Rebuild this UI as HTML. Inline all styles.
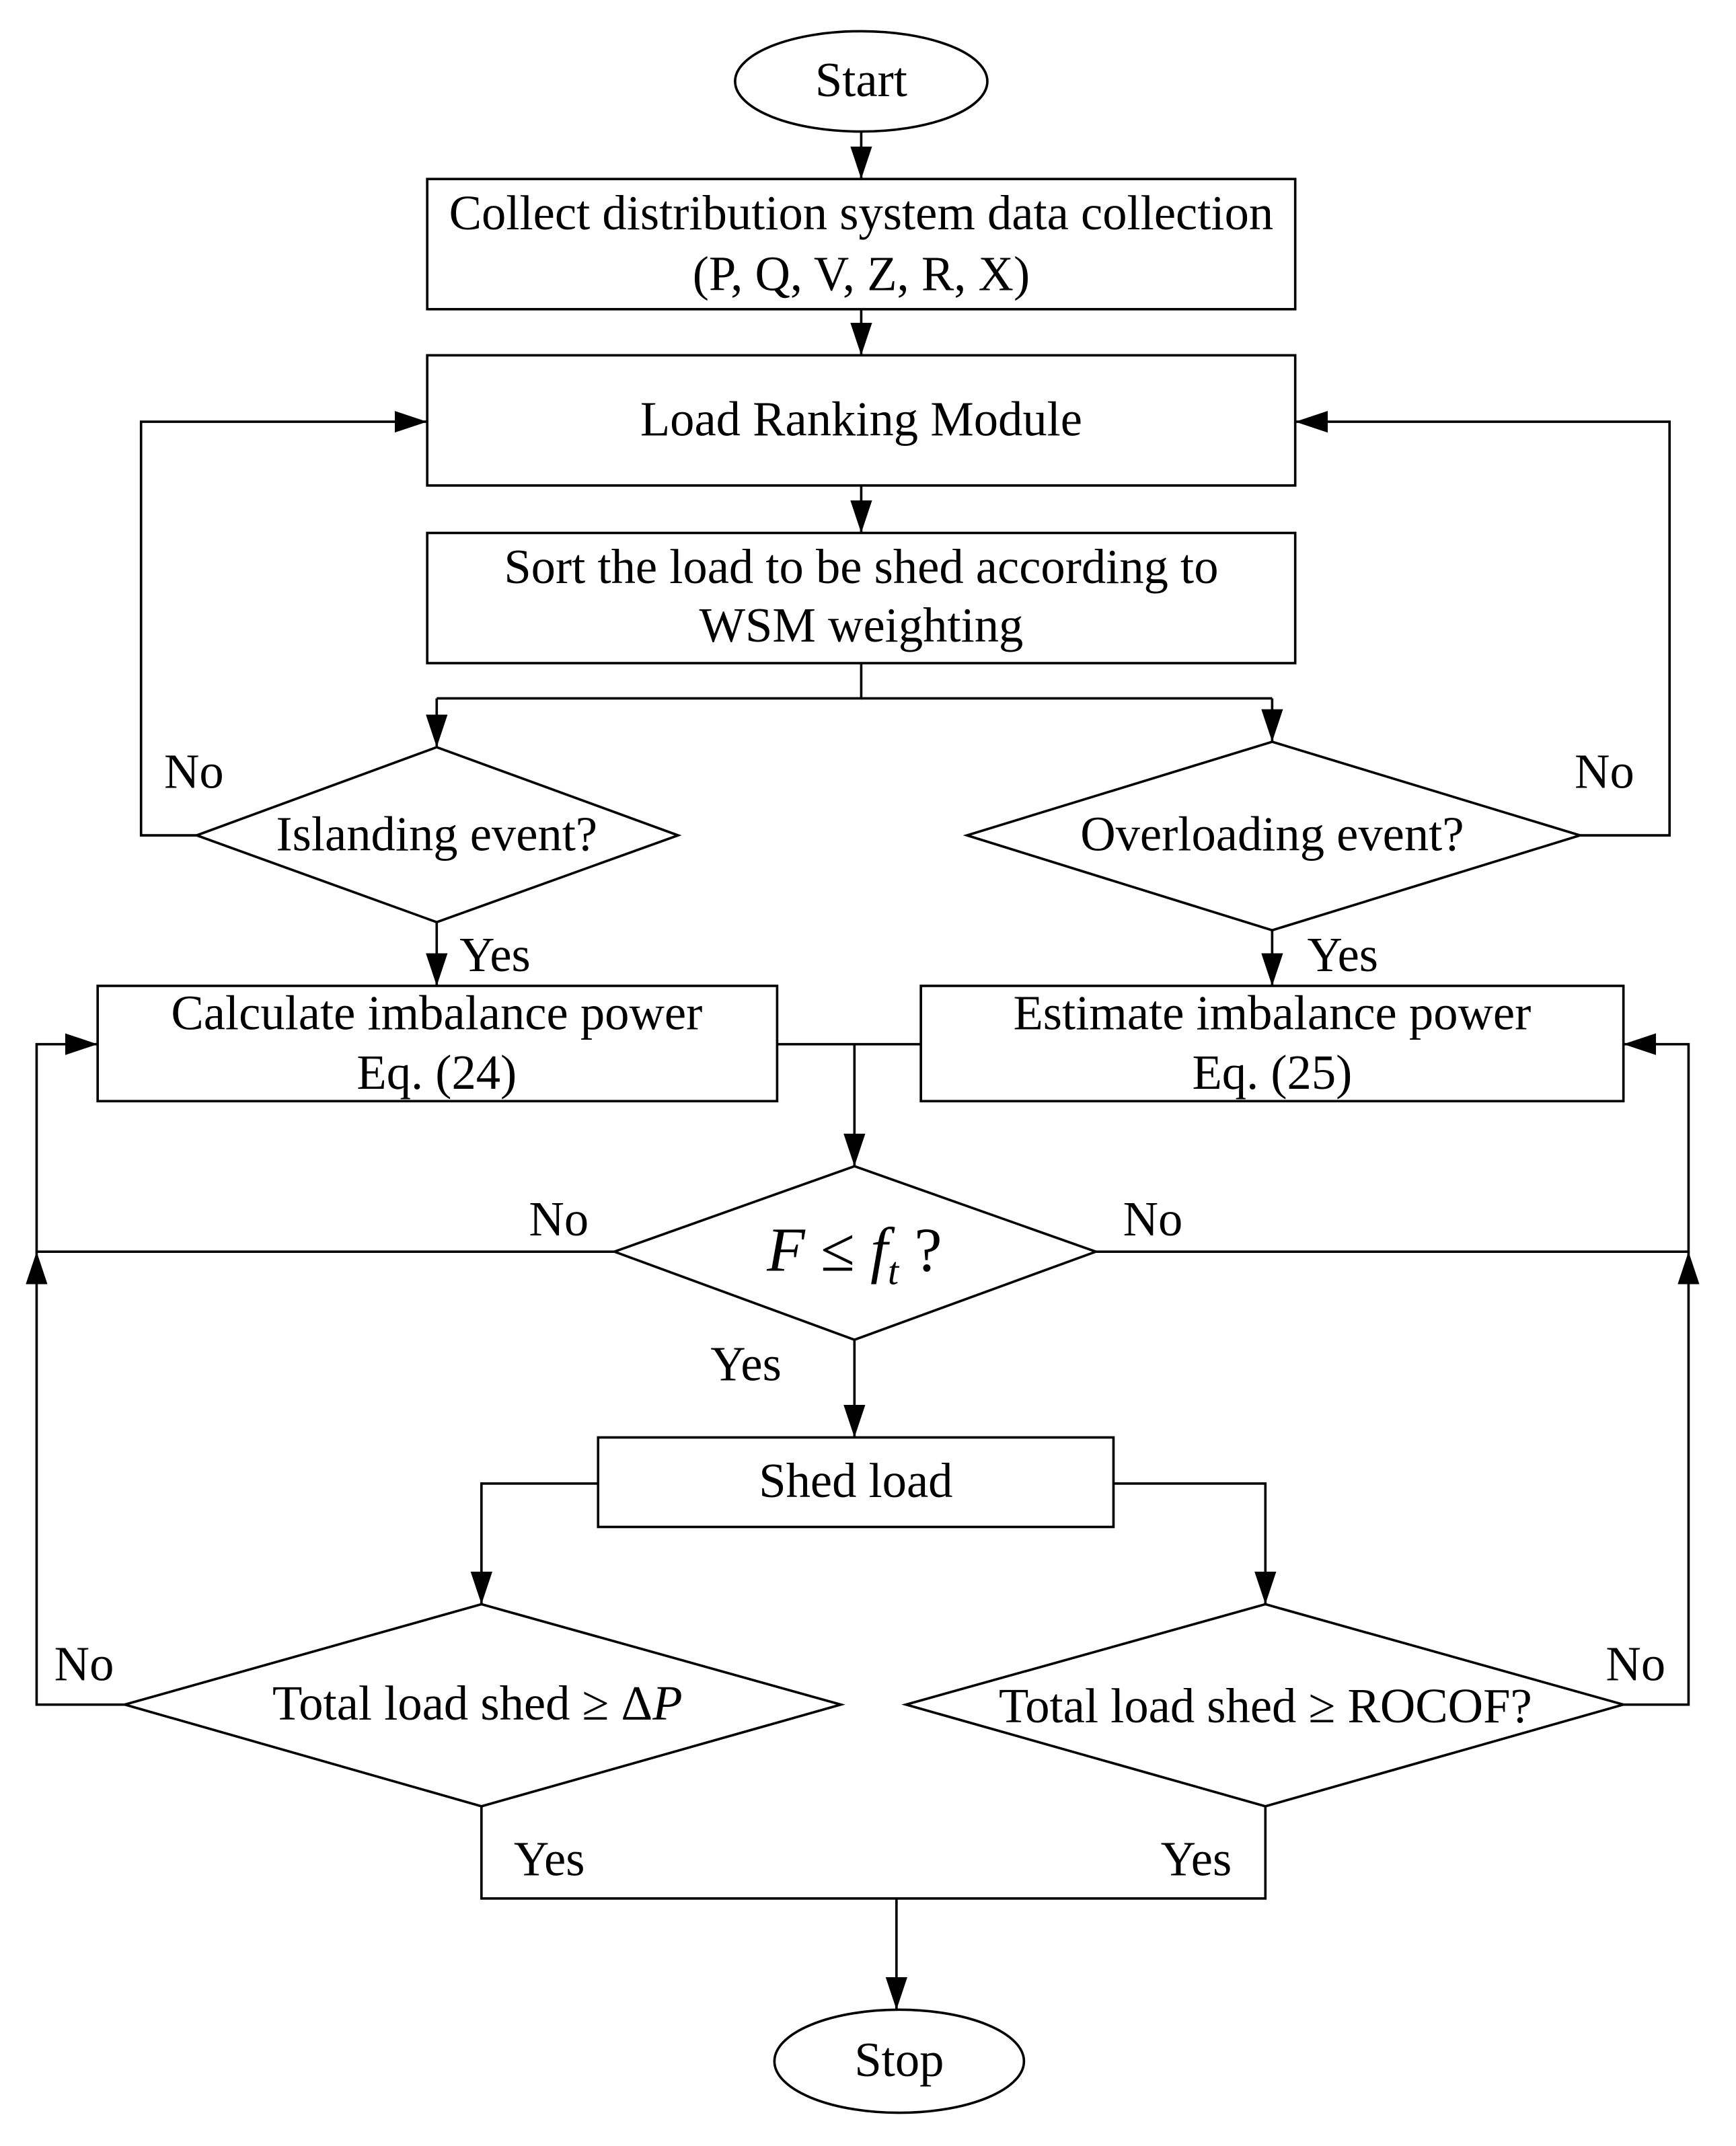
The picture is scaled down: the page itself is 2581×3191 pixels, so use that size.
<!DOCTYPE html>
<html><head><meta charset="utf-8"><style>html,body{margin:0;padding:0;background:#fff}svg{display:block}</style></head>
<body>
<svg width="2581" height="3191" viewBox="0 0 1280 1582.5" xmlns="http://www.w3.org/2000/svg" font-family="Liberation Serif, serif" font-size="36" text-anchor="middle">
<defs><marker id="a" markerWidth="24" markerHeight="16" refX="24" refY="8" orient="auto" markerUnits="userSpaceOnUse"><path d="M0,0 L24,8 L0,16 z" fill="#000"/></marker></defs>
<g fill="none" stroke="#000" stroke-width="1.8">
<ellipse cx="635" cy="60" rx="93" ry="37" fill="#fff"/>
<line x1="635" y1="97" x2="635" y2="132" marker-end="url(#a)"/>
<rect x="315" y="132" width="640" height="96"/>
<line x1="635" y1="228" x2="635" y2="262" marker-end="url(#a)"/>
<rect x="315" y="262" width="640" height="96"/>
<line x1="635" y1="358" x2="635" y2="393" marker-end="url(#a)"/>
<rect x="315" y="393" width="640" height="96"/>
<polyline points="635,489 635,515 322,515"/>
<line x1="322" y1="515" x2="322" y2="551" marker-end="url(#a)"/>
<polyline points="635,515 938,515"/>
<line x1="938" y1="515" x2="938" y2="547" marker-end="url(#a)"/>
<polygon points="322,551 500,616 322,680 145,616"/>
<polygon points="938,547 1165,616 938,686 713,616"/>
<polyline points="145,616 104,616 104,311 315,311" marker-end="url(#a)"/>
<polyline points="1165,616 1231,616 1231,311 955,311" marker-end="url(#a)"/>
<line x1="322" y1="680" x2="322" y2="727" marker-end="url(#a)"/>
<line x1="938" y1="686" x2="938" y2="727" marker-end="url(#a)"/>
<rect x="72" y="727" width="501" height="85"/>
<rect x="679" y="727" width="518" height="85"/>
<line x1="573" y1="770" x2="679" y2="770"/>
<line x1="630" y1="770" x2="630" y2="860" marker-end="url(#a)"/>
<polygon points="630,860 808,923 630,988 453,923"/>
<polyline points="453,923 27,923 27,770 72,770" marker-end="url(#a)"/>
<polyline points="808,923 1245,923 1245,770 1197,770" marker-end="url(#a)"/>
<line x1="630" y1="988" x2="630" y2="1060" marker-end="url(#a)"/>
<rect x="441" y="1060" width="380" height="66"/>
<polyline points="441,1094 355,1094 355,1183" marker-end="url(#a)"/>
<polyline points="821,1094 933,1094 933,1183" marker-end="url(#a)"/>
<polygon points="355,1183 620,1257 355,1332 92,1257"/>
<polygon points="933,1183 1197,1257 933,1332 668,1257"/>
<polyline points="92,1257 27,1257 27,923" marker-end="url(#a)"/>
<polyline points="1197,1257 1245,1257 1245,923" marker-end="url(#a)"/>
<polyline points="355,1332 355,1400 933,1400 933,1332"/>
<line x1="661" y1="1400" x2="661" y2="1482" marker-end="url(#a)"/>
<ellipse cx="663" cy="1520" rx="92" ry="38"/>
</g>
<g fill="#000">
<text x="635" y="71">Start</text>
<text x="635" y="169">Collect distribution system data collection</text>
<text x="635" y="214">(P, Q, V, Z, R, X)</text>
<text x="635" y="321">Load Ranking Module</text>
<text x="635" y="430">Sort the load to be shed according to</text>
<text x="635" y="473">WSM weighting</text>
<text x="322" y="627">Islanding event?</text>
<text x="938" y="627">Overloading event?</text>
<text x="143" y="581">No</text>
<text x="1183" y="581">No</text>
<text x="365" y="716">Yes</text>
<text x="990" y="716">Yes</text>
<text x="322" y="759">Calculate imbalance power</text>
<text x="322" y="803">Eq. (24)</text>
<text x="938" y="759">Estimate imbalance power</text>
<text x="938" y="803">Eq. (25)</text>
<text x="412" y="911">No</text>
<text x="850" y="911">No</text>
<text x="630" y="937" font-size="46"><tspan font-style="italic">F</tspan> ≤ <tspan font-style="italic">f</tspan><tspan font-style="italic" font-size="29" dy="10">t</tspan><tspan dy="-10"> ?</tspan></text>
<text x="550" y="1018">Yes</text>
<text x="631" y="1104">Shed load</text>
<text x="62" y="1239">No</text>
<text x="1206" y="1239">No</text>
<text x="352" y="1268">Total load shed ≥ Δ<tspan font-style="italic">P</tspan></text>
<text x="933" y="1270">Total load shed ≥ ROCOF?</text>
<text x="405" y="1383">Yes</text>
<text x="882" y="1383">Yes</text>
<text x="663" y="1531">Stop</text>
</g>
</svg>
</body></html>
